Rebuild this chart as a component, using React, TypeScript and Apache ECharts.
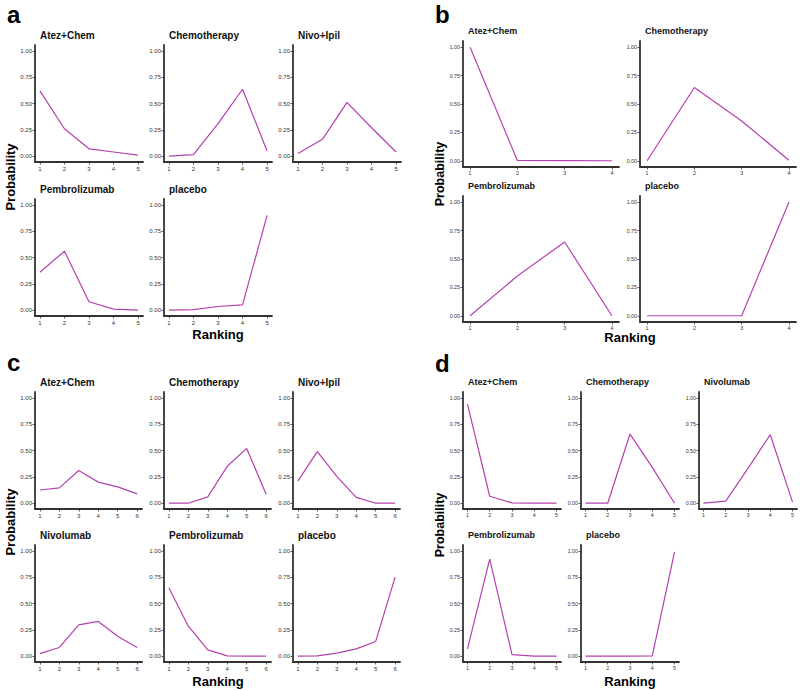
import React, { useEffect, useRef } from "react";
import * as echarts from "echarts";

// ---- data ----
const ranks4 = [1, 2, 3, 4];
const ranks5 = [1, 2, 3, 4, 5];
const ranks6 = [1, 2, 3, 4, 5, 6];
const probTicks = [0, 0.25, 0.5, 0.75, 1];

// panel a
const aAtezChem = [0.62, 0.26, 0.07, 0.04, 0.01];
const aChemo = [0.0, 0.015, 0.31, 0.635, 0.05];
const aNivoIpil = [0.025, 0.16, 0.51, 0.27, 0.04];
const aPembro = [0.36, 0.56, 0.08, 0.01, 0.0];
const aPlacebo = [0.0, 0.005, 0.035, 0.05, 0.9];
// panel b
const bAtezChem = [1.0, 0.003, 0.002, 0.0];
const bChemo = [0.0, 0.645, 0.35, 0.005];
const bPembro = [0.0, 0.35, 0.65, 0.0];
const bPlacebo = [0.0, 0.0, 0.0, 1.0];
// panel c
const cAtezChem = [0.125, 0.145, 0.31, 0.2, 0.155, 0.088];
const cChemo = [0.0, 0.0, 0.06, 0.35, 0.52, 0.085];
const cNivoIpil = [0.21, 0.49, 0.255, 0.055, 0.0, 0.0];
const cNivo = [0.025, 0.083, 0.297, 0.33, 0.19, 0.083];
const cPembro = [0.65, 0.285, 0.06, 0.003, 0.0, 0.0];
const cPlacebo = [0.0, 0.003, 0.03, 0.07, 0.14, 0.75];
// panel d
const dAtezChem = [0.94, 0.066, 0.003, 0.0, 0.0];
const dChemo = [0.0, 0.0, 0.656, 0.34, 0.0];
const dNivo = [0.0, 0.02, 0.33, 0.65, 0.01];
const dPembro = [0.07, 0.92, 0.015, 0.0, 0.0];
const dPlacebo = [0.0, 0.0, 0.0, 0.003, 0.99];

const LINE = "#B440B0";
const AXIS = "#333333";
const FONT = "'Liberation Sans', Arial, Helvetica, sans-serif";
const YMIN = -0.055;
const YMAX = 1.055;

type Facet = {
  t: string;
  x: number[];
  y: number[];
  l: number;
  tp: number;
  w: number;
  h: number;
  fs: number;
  lf: number;
};

const facets: Facet[] = [
  // a
  { t: "Atez+Chem", x: ranks5, y: aAtezChem, l: 35, tp: 45, w: 108, h: 117, fs: 10, lf: 6 },
  { t: "Chemotherapy", x: ranks5, y: aChemo, l: 164, tp: 45, w: 108, h: 117, fs: 10, lf: 6 },
  { t: "Nivo+Ipil", x: ranks5, y: aNivoIpil, l: 293, tp: 45, w: 108, h: 117, fs: 10, lf: 6 },
  { t: "Pembrolizumab", x: ranks5, y: aPembro, l: 35, tp: 199, w: 108, h: 117, fs: 10, lf: 6 },
  { t: "placebo", x: ranks5, y: aPlacebo, l: 164, tp: 199, w: 108, h: 117, fs: 10, lf: 6 },
  // b
  { t: "Atez+Chem", x: ranks4, y: bAtezChem, l: 463, tp: 41, w: 156, h: 126, fs: 9, lf: 5.3 },
  { t: "Chemotherapy", x: ranks4, y: bChemo, l: 640, tp: 41, w: 156, h: 126, fs: 9, lf: 5.3 },
  { t: "Pembrolizumab", x: ranks4, y: bPembro, l: 463, tp: 196, w: 156, h: 126, fs: 9, lf: 5.3 },
  { t: "placebo", x: ranks4, y: bPlacebo, l: 640, tp: 196, w: 156, h: 126, fs: 9, lf: 5.3 },
  // c
  { t: "Atez+Chem", x: ranks6, y: cAtezChem, l: 35, tp: 392, w: 107, h: 117, fs: 10, lf: 6 },
  { t: "Chemotherapy", x: ranks6, y: cChemo, l: 164, tp: 392, w: 107, h: 117, fs: 10, lf: 6 },
  { t: "Nivo+Ipil", x: ranks6, y: cNivoIpil, l: 293, tp: 392, w: 107, h: 117, fs: 10, lf: 6 },
  { t: "Nivolumab", x: ranks6, y: cNivo, l: 35, tp: 545, w: 107, h: 117, fs: 10, lf: 6 },
  { t: "Pembrolizumab", x: ranks6, y: cPembro, l: 164, tp: 545, w: 107, h: 117, fs: 10, lf: 6 },
  { t: "placebo", x: ranks6, y: cPlacebo, l: 293, tp: 545, w: 107, h: 117, fs: 10, lf: 6 },
  // d
  { t: "Atez+Chem", x: ranks5, y: dAtezChem, l: 463, tp: 392, w: 98, h: 117, fs: 9, lf: 5.3 },
  { t: "Chemotherapy", x: ranks5, y: dChemo, l: 581, tp: 392, w: 98, h: 117, fs: 9, lf: 5.3 },
  { t: "Nivolumab", x: ranks5, y: dNivo, l: 699, tp: 392, w: 98, h: 117, fs: 9, lf: 5.3 },
  { t: "Pembrolizumab", x: ranks5, y: dPembro, l: 463, tp: 545, w: 98, h: 117, fs: 9, lf: 5.3 },
  { t: "placebo", x: ranks5, y: dPlacebo, l: 581, tp: 545, w: 98, h: 117, fs: 9, lf: 5.3 },
];

const xRange = (n: number) => {
  const pad = 0.05 * (n - 1);
  return [1 - pad, n + pad];
};

function buildTexts() {
  const graphic: any[] = [];
  facets.forEach((f) => {
    graphic.push({
      type: "text",
      x: f.l + 5,
      y: f.tp - 10,
      style: {
        text: f.t,
        fill: "#111",
        font: `bold ${f.fs}px ${FONT}`,
        textAlign: "left",
        textVerticalAlign: "middle",
      },
    });
  });
  const letter = (t: string, x: number, y: number) => ({
    type: "text",
    x,
    y,
    style: {
      text: t,
      fill: "#000",
      font: `bold 24px ${FONT}`,
      textAlign: "left",
      textVerticalAlign: "middle",
    },
  });
  const label = (t: string, x: number, y: number, rot: boolean, fs: number) => ({
    type: "text",
    x,
    y,
    rotation: rot ? Math.PI / 2 : 0,
    style: {
      text: t,
      fill: "#000",
      font: `bold ${fs}px ${FONT}`,
      textAlign: "center",
      textVerticalAlign: "middle",
    },
  });
  graphic.push(letter("a", 7, 14));
  graphic.push(letter("b", 435, 14));
  graphic.push(letter("c", 7, 362));
  graphic.push(letter("d", 435, 363));
  graphic.push(label("Probability", 10, 177, true, 13));
  graphic.push(label("Probability", 440, 174, true, 12.5));
  graphic.push(label("Probability", 10, 522, true, 13));
  graphic.push(label("Probability", 440, 525, true, 12.5));
  graphic.push(label("Ranking", 218, 334, false, 13));
  graphic.push(label("Ranking", 630, 337, false, 13));
  graphic.push(label("Ranking", 218, 681, false, 13));
  graphic.push(label("Ranking", 630, 681, false, 13));
  return graphic;
}

function buildOption() {
  const grid: any[] = [];
  const xAxis: any[] = [];
  const yAxis: any[] = [];
  const series: any[] = [];

  facets.forEach((f, i) => {
    const [xmin, xmax] = xRange(f.x.length);
    grid.push({ left: f.l, top: f.tp, width: f.w, height: f.h });
    xAxis.push({
      type: "value",
      gridIndex: i,
      min: xmin,
      max: xmax,
      splitLine: { show: false },
      axisLine: { show: true, onZero: false, lineStyle: { color: AXIS, width: 1.8 } },
      axisTick: { show: true, customValues: f.x, length: 2.5, lineStyle: { color: AXIS, width: 0.8 } },
      axisLabel: {
        customValues: f.x,
        fontSize: f.lf,
        color: "#333",
        fontFamily: FONT,
        margin: 3.5,
        formatter: (v: number) => String(v),
      },
    });
    yAxis.push({
      type: "value",
      gridIndex: i,
      min: YMIN,
      max: YMAX,
      splitLine: { show: false },
      axisLine: { show: true, onZero: false, lineStyle: { color: AXIS, width: 1.8 } },
      axisTick: { show: true, customValues: probTicks, length: 2.5, lineStyle: { color: AXIS, width: 0.8 } },
      axisLabel: {
        customValues: probTicks,
        fontSize: f.lf,
        color: "#333",
        fontFamily: FONT,
        margin: 3,
        formatter: (v: number) => v.toFixed(2),
      },
    });
    series.push({
      type: "line",
      xAxisIndex: i,
      yAxisIndex: i,
      data: f.x.map((r, k) => [r, f.y[k]]),
      showSymbol: false,
      symbol: "none",
      z: 3,
      lineStyle: { color: LINE, width: 1.2 },
    });
  });

  return {
    animation: false,
    grid,
    xAxis,
    yAxis,
    series,
    graphic: buildTexts(),
  };
}

export default function App() {
  const ref = useRef<HTMLDivElement>(null);
  useEffect(() => {
    if (!ref.current) return;
    const chart = echarts.init(ref.current, undefined, { renderer: "svg" });
    chart.setOption(buildOption() as any);
    return () => chart.dispose();
  }, []);
  return <div ref={ref} style={{ position: "absolute", left: 0, top: 0, width: 800, height: 691 }} />;
}
